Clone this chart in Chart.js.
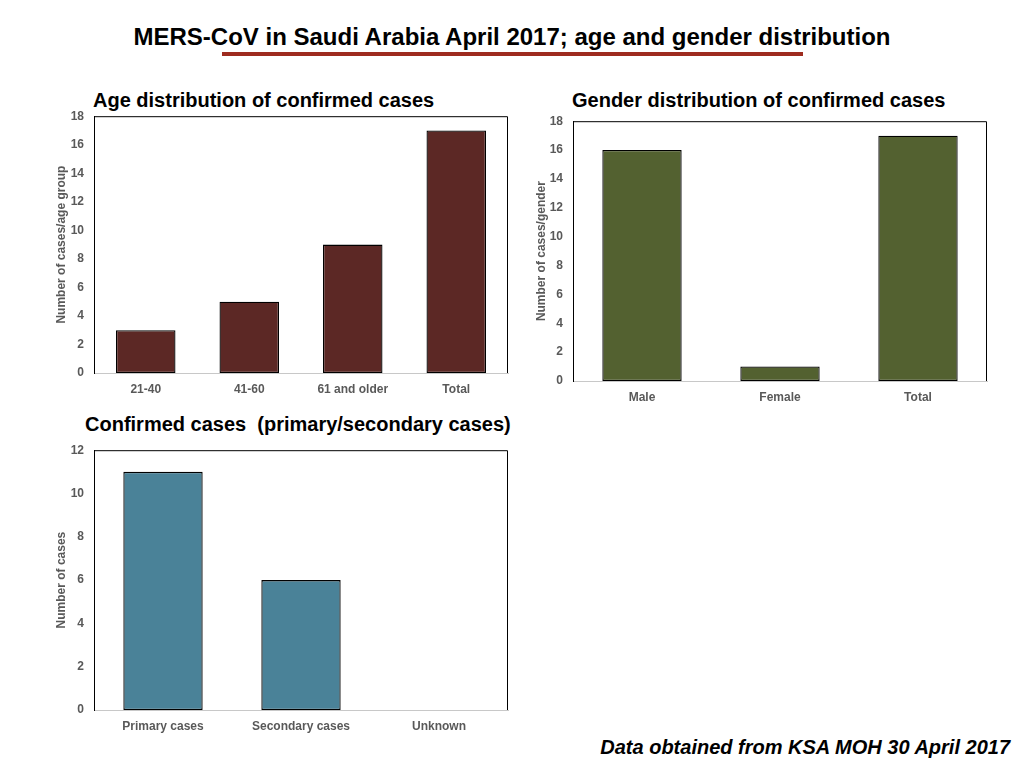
<!DOCTYPE html>
<html>
<head>
<meta charset="utf-8">
<script src="https://cdn.jsdelivr.net/npm/chart.js@4.4.1/dist/chart.umd.min.js"></script>
<style>
  body { margin: 0; background: #fff; font-family: "Liberation Sans", Arial, sans-serif; }
  #lienzo { position: relative; width: 1024px; height: 768px; overflow: hidden; }
  .titulo { position: absolute; left: 0; width: 1024px; top: 23px; text-align: center; font-weight: bold; font-size: 24px; color: #000; }
  .subrayado { position: absolute; left: 222px; width: 581px; top: 52px; height: 4px; background: #9e2b1f; }
  .subtitulo { position: absolute; font-weight: bold; font-size: 20px; color: #000; white-space: nowrap; }
  .caja { position: absolute; }
  .pie { position: absolute; right: 14px; top: 736px; font-weight: bold; font-style: italic; font-size: 20px; color: #000; }
</style>
</head>
<body>
<div id="lienzo">
  <div class="titulo">MERS-CoV in Saudi Arabia April 2017; age and gender distribution</div>
  <div class="subrayado"></div>

  <div class="subtitulo" style="left:93px; top:89px;">Age distribution of confirmed cases</div>
  <div class="caja" style="left:40px; top:99px; width:472px; height:307px;"><canvas id="graficoEdad"></canvas></div>

  <div class="subtitulo" style="left:572px; top:89px;">Gender distribution of confirmed cases</div>
  <div class="caja" style="left:520px; top:104px; width:471px; height:307px;"><canvas id="graficoGenero"></canvas></div>

  <div class="subtitulo" style="left:85px; top:413px;">Confirmed cases&nbsp; (primary/secondary cases)</div>
  <div class="caja" style="left:40px; top:433px; width:472px; height:307px;"><canvas id="graficoTipo"></canvas></div>

  <div class="pie">Data obtained from KSA MOH 30 April 2017</div>
</div>

<script>
// ===================================== Data ==================
const edadCategorias = ["21-40", "41-60", "61 and older", "Total"];
const edadCasos = [3, 5, 9, 17];
const edadMaximo = 18;

const generoCategorias = ["Male", "Female", "Total"];
const generoCasos = [16, 1, 17];
const generoMaximo = 18;

const tipoCategorias = ["Primary cases", "Secondary cases", "Unknown"];
const tipoCasos = [11, 6, 0];
const tipoMaximo = 12;

const pasoEje = 2;

// ===================================== Top/right frame of the plot area ==================
const marcoPlot = {
  id: "marcoPlot",
  afterDraw(chart) {
    const a = chart.chartArea;
    const ctx = chart.ctx;
    ctx.save();
    ctx.strokeStyle = "#000";
    ctx.lineWidth = 1;
    ctx.beginPath();
    ctx.moveTo(a.left, a.top + 0.5);
    ctx.lineTo(a.right - 0.5, a.top + 0.5);
    ctx.lineTo(a.right - 0.5, a.bottom);
    ctx.stroke();
    ctx.restore();
  }
};

const fuenteEje = { family: "'Liberation Sans', Arial, sans-serif", size: 12, weight: "bold" };

// ===================================== Bar chart builder ==================
function crearGrafico(id, categorias, valores, maximo, color, tituloY, anchoY, altoX) {
  return new Chart(document.getElementById(id), {
    type: "bar",
    data: {
      labels: categorias,
      datasets: [{
        data: valores,
        backgroundColor: color,
        borderColor: "#000",
        borderWidth: 1.3,
        borderSkipped: false,
        barPercentage: 0.575,
        categoryPercentage: 1
      }]
    },
    options: {
      responsive: true,
      maintainAspectRatio: false,
      animation: false,
      layout: { padding: { top: 3, right: 4, left: 0, bottom: 0 } },
      scales: {
        x: {
          grid: { display: false, drawTicks: false },
          border: { display: true, color: "#c8c8c8", width: 1 },
          ticks: { color: "#595959", font: fuenteEje, padding: 9 },
          afterFit: s => { s.height = altoX; }
        },
        y: {
          min: 0,
          max: maximo,
          grid: { display: false, drawTicks: false },
          border: { display: true, color: "#000", width: 1 },
          ticks: { stepSize: pasoEje, color: "#595959", font: fuenteEje, padding: 10 },
          title: { display: true, text: tituloY, color: "#595959", font: fuenteEje, padding: { top: 14, bottom: 0 } },
          afterFit: s => { s.width = anchoY; }
        }
      },
      plugins: {
        legend: { display: false },
        tooltip: { enabled: false }
      }
    },
    plugins: [marcoPlot]
  });
}

// ===================================== Draw the three charts ==================
crearGrafico("graficoEdad", edadCategorias, edadCasos, edadMaximo, "#5c2825", "Number of cases/age group", 54, 33);
crearGrafico("graficoGenero", generoCategorias, generoCasos, generoMaximo, "#536130", "Number of cases/gender", 53, 30);
crearGrafico("graficoTipo", tipoCategorias, tipoCasos, tipoMaximo, "#4a8298", "Number of cases", 54, 30);
</script>
</body>
</html>
